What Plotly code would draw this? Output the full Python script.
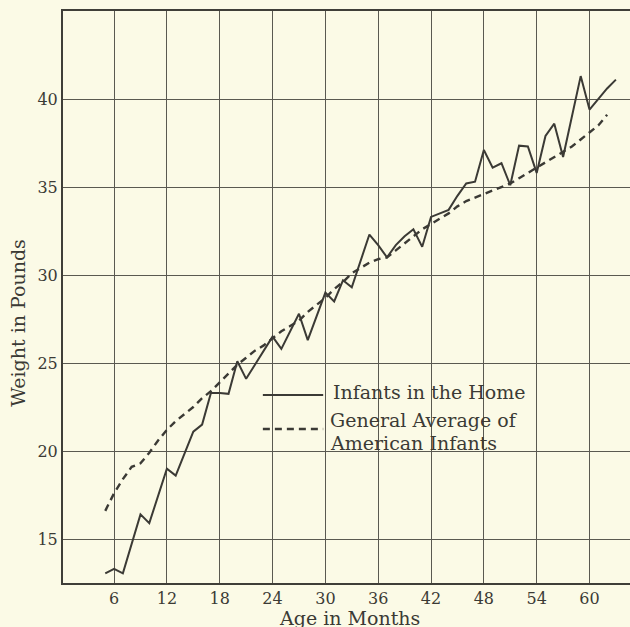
import plotly.graph_objects as go

months_home = list(range(5, 64))
weight_home = [13.05, 13.3, 13.05, 14.7, 16.4, 15.9, 17.5, 19.0, 18.6, 19.8,
               21.1, 21.5, 23.3, 23.3, 23.25, 25.1, 24.1, 24.9, 25.7, 26.5,
               25.8, 26.8, 27.8, 26.3, 27.7, 29.0, 28.5, 29.7, 29.3, 30.8,
               32.3, 31.7, 31.0, 31.7, 32.2, 32.6, 31.6, 33.3, 33.5, 33.7,
               34.5, 35.2, 35.3, 37.1, 36.1, 36.35, 35.1, 37.35, 37.3, 35.8,
               37.9, 38.6, 36.7, 39.0, 41.3, 39.4, 40.0, 40.6, 41.1]

months_avg = list(range(5, 63))
weight_avg = [16.6, 17.6, 18.4, 19.1, 19.3, 19.9, 20.6, 21.2, 21.7, 22.1,
              22.5, 23.0, 23.4, 23.9, 24.4, 24.9, 25.3, 25.7, 26.0, 26.4,
              26.8, 27.1, 27.4, 27.9, 28.3, 28.7, 29.2, 29.6, 30.1, 30.4,
              30.7, 30.9, 31.0, 31.4, 31.8, 32.2, 32.6, 32.9, 33.2, 33.5,
              33.9, 34.2, 34.4, 34.6, 34.8, 35.0, 35.2, 35.5, 35.8, 36.1,
              36.4, 36.7, 37.0, 37.3, 37.7, 38.1, 38.5, 39.1]

x_ticks = [6, 12, 18, 24, 30, 36, 42, 48, 54, 60]
y_ticks = [15, 20, 25, 30, 35, 40]

series_names = ["Infants in the Home", "General Average of", "American Infants"]

INK = "#3b3a35"
BG = "#fbfae6"
FONT = "DejaVu Serif"

fig = go.Figure()
fig.add_trace(go.Scatter(x=months_home, y=weight_home, mode="lines",
                         line=dict(color=INK, width=2), name=series_names[0]))
fig.add_trace(go.Scatter(x=months_avg, y=weight_avg, mode="lines",
                         line=dict(color=INK, width=2.4, dash="7px,5px"),
                         name=series_names[1] + " " + series_names[2]))

# legend keys (drawn as shapes) and labels
fig.add_shape(type="line", xref="x", yref="y", x0=22.9, x1=29.75, y0=23.18, y1=23.18,
              line=dict(color=INK, width=2))
fig.add_shape(type="line", xref="x", yref="y", x0=22.9, x1=29.75, y0=21.25, y1=21.25,
              line=dict(color=INK, width=2.4, dash="7px,5px"))
fig.add_annotation(x=30.6, y=23.35, xref="x", yref="y", text=series_names[0],
                   showarrow=False, xanchor="left", yanchor="middle",
                   font=dict(family=FONT, size=19, color=INK))
fig.add_annotation(x=30.3, y=21.76, xref="x", yref="y", text=series_names[1],
                   showarrow=False, xanchor="left", yanchor="middle",
                   font=dict(family=FONT, size=19, color=INK))
fig.add_annotation(x=30.3, y=20.45, xref="x", yref="y", text=series_names[2],
                   showarrow=False, xanchor="left", yanchor="middle",
                   font=dict(family=FONT, size=19, color=INK))

# axis titles
fig.add_annotation(x=0.505, y=0, xref="paper", yref="paper", text="Age in Months",
                   showarrow=False, xanchor="center", yanchor="top", yshift=-22,
                   font=dict(family=FONT, size=19, color=INK))
fig.add_annotation(x=0, y=0.455, xref="paper", yref="paper", text="Weight in Pounds",
                   showarrow=False, xanchor="center", yanchor="middle", xshift=-45,
                   textangle=-90, font=dict(family=FONT, size=19, color=INK))

fig.update_layout(
    width=630, height=627,
    margin=dict(l=63, r=0, t=11, b=44),
    paper_bgcolor=BG, plot_bgcolor=BG,
    showlegend=False,
    font=dict(family=FONT, size=16, color=INK),
)
fig.update_xaxes(range=[0.2, 64.6], tickvals=x_ticks, ticktext=[str(v) for v in x_ticks],
                 showgrid=True, gridcolor="#5a5950", gridwidth=1.2,
                 showline=True, linecolor="#3f3e38", linewidth=2, mirror=True,
                 ticks="", zeroline=False, tickfont=dict(family=FONT, size=16, color=INK))
fig.update_yaxes(range=[12.5, 45], tickvals=y_ticks, ticktext=[str(v) for v in y_ticks],
                 showgrid=True, gridcolor="#5a5950", gridwidth=1.2,
                 showline=True, linecolor="#3f3e38", linewidth=2, mirror=False,
                 ticks="", zeroline=False, tickfont=dict(family=FONT, size=16, color=INK))

fig.write_html("out.html",
               config={"displayModeBar": False},
               post_script="document.body.style.margin='0';"
                           "document.body.style.overflow='hidden';"
                           "document.body.style.background='" + BG + "';")
